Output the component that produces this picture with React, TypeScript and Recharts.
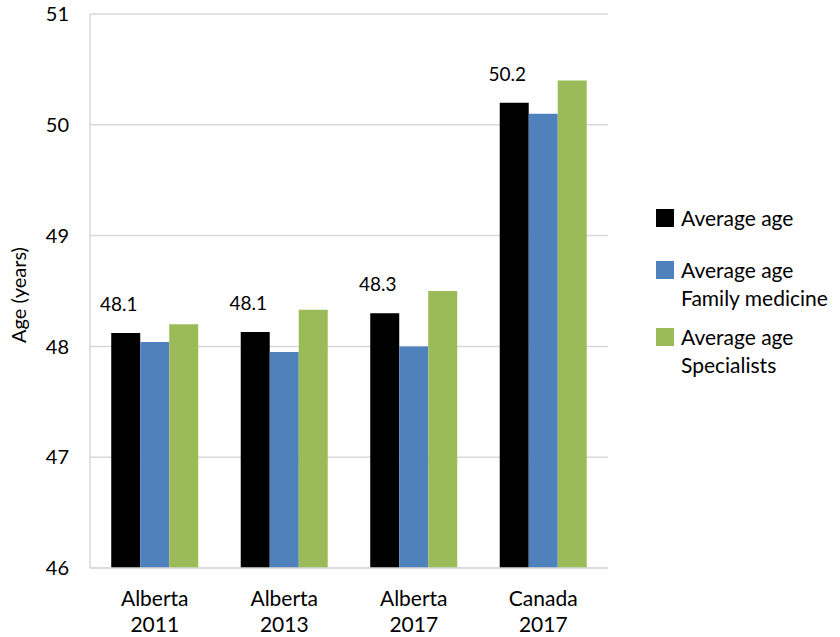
import React from "react";
import {
  BarChart,
  Bar,
  XAxis,
  YAxis,
  CartesianGrid,
  Legend,
  LabelList,
} from "recharts";

// Physician age by jurisdiction and year
const regions = ["Alberta", "Alberta", "Alberta", "Canada"];
const years = ["2011", "2013", "2017", "2017"];
const averageAge = [48.12, 48.13, 48.3, 50.2];
const familyMedicineAge = [48.04, 47.95, 48.0, 50.1];
const specialistsAge = [48.2, 48.33, 48.5, 50.4];
const yTicks = [46, 47, 48, 49, 50, 51];

const FONT = "Lato, 'Open Sans', sans-serif";
const GRID = "#d9d9d9";

const series = [
  { key: "avg", lines: ["Average age"], color: "#000000" },
  { key: "family", lines: ["Average age", "Family medicine"], color: "#4f81bd" },
  { key: "spec", lines: ["Average age", "Specialists"], color: "#9bbb59" },
];

const data = regions.map((region, i) => ({
  name: `${region} ${years[i]}`,
  region,
  year: years[i],
  avg: averageAge[i],
  family: familyMedicineAge[i],
  spec: specialistsAge[i],
}));

const CategoryTick = ({ x, y, index }: any) => (
  <text
    x={x}
    y={y}
    textAnchor="middle"
    fontFamily={FONT}
    fontSize={21}
    fill="#000"
  >
    <tspan x={x} y={y + 36}>
      {regions[index]}
    </tspan>
    <tspan x={x} y={y + 62}>
      {years[index]}
    </tspan>
  </text>
);

const ValueLabel = ({ x, y, width, value }: any) => (
  <text
    x={x + width / 2 - 7}
    y={y - 22}
    textAnchor="middle"
    fontFamily={FONT}
    fontSize={19}
    fill="#000"
  >
    {Number(value).toFixed(1)}
  </text>
);

// legend entries sit at uneven offsets, like the original workbook
const legendTops = [0, 52, 119];

const renderLegend = () => (
  <div style={{ position: "relative", fontFamily: FONT, fontSize: 21 }}>
    {series.map((s, i) => (
      <div
        key={s.key}
        style={{ position: "absolute", left: 0, top: legendTops[i], lineHeight: "28px" }}
      >
        <div
          style={{
            position: "absolute",
            left: 0,
            top: 5,
            width: 18,
            height: 18,
            backgroundColor: s.color,
          }}
        />
        <div style={{ marginLeft: 25, whiteSpace: "nowrap", color: "#000" }}>
          {s.lines.map((line) => (
            <div key={line}>{line}</div>
          ))}
        </div>
      </div>
    ))}
  </div>
);

const AxisTitle = ({ viewBox }: any) => {
  const cx = viewBox.x + 18;
  const cy = viewBox.y + viewBox.height / 2 + 4;
  return (
    <text
      x={cx}
      y={cy}
      transform={`rotate(-90, ${cx}, ${cy})`}
      textAnchor="middle"
      dominantBaseline="central"
      fontFamily={FONT}
      fontSize={20}
      fill="#000"
    >
      Age (years)
    </text>
  );
};

export default function App() {
  return (
    <div style={{ position: "absolute", left: 0, top: 0, background: "#fff" }}>
      <BarChart
        width={840}
        height={637}
        data={data}
        margin={{ top: 14, right: 232, bottom: 0, left: 0 }}
        barCategoryGap="16.4%"
        barGap={0}
      >
        <CartesianGrid vertical={false} stroke={GRID} strokeWidth={1.5} />
        <XAxis
          dataKey="name"
          height={69}
          tickLine={false}
          tickSize={0}
          axisLine={{ stroke: GRID, strokeWidth: 1.5 }}
          tick={<CategoryTick />}
          interval={0}
        />
        <YAxis
          width={90}
          domain={[46, 51]}
          ticks={yTicks}
          interval={0}
          tickLine={false}
          tickSize={0}
          tickMargin={21}
          axisLine={{ stroke: GRID, strokeWidth: 1.5 }}
          tick={{ fontFamily: FONT, fontSize: 20, fill: "#000" }}
          label={<AxisTitle />}
        />
        <Legend
          layout="horizontal"
          align="center"
          verticalAlign="middle"
          content={renderLegend}
          wrapperStyle={{ left: 656, top: 204, width: 184, height: 180 }}
        />
        {series.map((s) => (
          <Bar key={s.key} dataKey={s.key} fill={s.color} isAnimationActive={false}>
            {s.key === "avg" && <LabelList dataKey="avg" content={<ValueLabel />} />}
          </Bar>
        ))}
      </BarChart>
    </div>
  );
}
